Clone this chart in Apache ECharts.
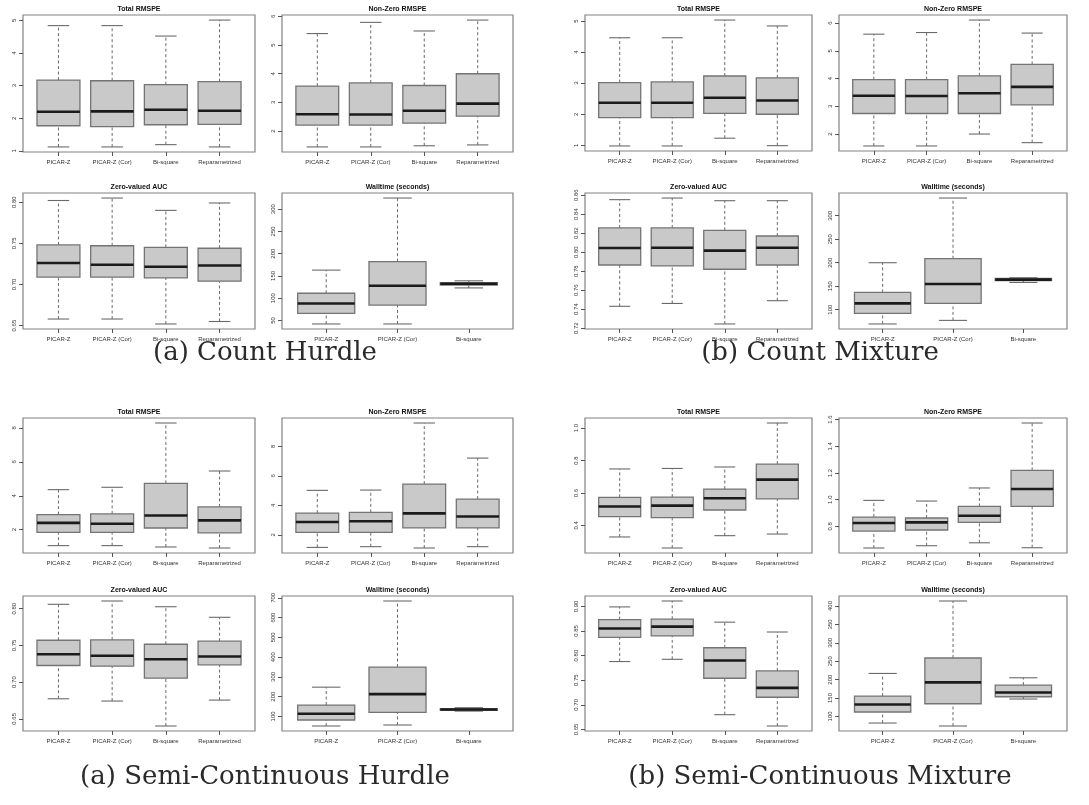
<!DOCTYPE html>
<html>
<head>
<meta charset="utf-8">
<script src="https://cdn.jsdelivr.net/npm/echarts@6/dist/echarts.min.js"></script>
<style>
  html, body { margin: 0; padding: 0; background: #ffffff; }
  #chart { width: 1089px; height: 805px; }
</style>
</head>
<body>
<div id="chart"></div>
<script>
// Methods compared along each x axis
const methods4 = ['PICAR-Z', 'PICAR-Z (Cor)', 'Bi-square', 'Reparametrized'];
const methods3 = ['PICAR-Z', 'PICAR-Z (Cor)', 'Bi-square'];

// Box summaries per method: [lower whisker, Q1, median, Q3, upper whisker]

// (a) Count Hurdle
const chTotalRmspe = [[1.12, 1.77, 2.20, 3.17, 4.84], [1.12, 1.74, 2.21, 3.15, 4.84], [1.19, 1.80, 2.26, 3.03, 4.52], [1.12, 1.81, 2.23, 3.12, 5.01]];
const chTotalRmspeTicks = ['1', '2', '3', '4', '5'];
const chNonZeroRmspe = [[1.45, 2.21, 2.59, 3.57, 5.40], [1.45, 2.21, 2.58, 3.68, 5.79], [1.49, 2.28, 2.71, 3.59, 5.49], [1.52, 2.52, 2.96, 4.00, 5.87]];
const chNonZeroRmspeTicks = ['2', '3', '4', '5', '6'];
const chZeroAuc = [[0.658, 0.709, 0.726, 0.748, 0.802], [0.658, 0.709, 0.724, 0.747, 0.805], [0.652, 0.708, 0.7215, 0.745, 0.790], [0.655, 0.704, 0.723, 0.744, 0.799]];
const chZeroAucTicks = ['0.65', '0.70', '0.75', '0.80'];
const chWalltime = [[42, 66, 88, 111, 163], [42, 84.5, 128, 182, 325], [123, 129.5, 132.5, 135, 139]];
const chWalltimeTicks = ['50', '100', '150', '200', '250', '300'];

// (b) Count Mixture
const cmTotalRmspe = [[0.98, 1.89, 2.37, 3.02, 4.46], [0.98, 1.89, 2.37, 3.04, 4.46], [1.23, 2.03, 2.53, 3.23, 5.03], [0.99, 2.00, 2.44, 3.17, 4.84]];
const cmTotalRmspeTicks = ['1', '2', '3', '4', '5'];
const cmNonZeroRmspe = [[1.57, 2.74, 3.38, 3.96, 5.60], [1.57, 2.74, 3.37, 3.96, 5.66], [2.00, 2.74, 3.47, 4.10, 6.11], [1.69, 3.05, 3.70, 4.51, 5.64]];
const cmNonZeroRmspeTicks = ['2', '3', '4', '5', '6'];
const cmZeroAuc = [[0.743, 0.7865, 0.8044, 0.8255, 0.8553], [0.746, 0.7855, 0.8047, 0.8255, 0.857], [0.7244, 0.782, 0.8016, 0.823, 0.8542], [0.7489, 0.7865, 0.8047, 0.817, 0.8542]];
const cmZeroAucTicks = ['0.72', '0.74', '0.76', '0.78', '0.80', '0.82', '0.84', '0.86'];
const cmWalltime = [[69.6, 92.1, 113.4, 136.8, 200], [77.2, 113.4, 154.7, 208.5, 337.7], [158, 162, 164, 166.5, 168]];
const cmWalltimeTicks = ['100', '150', '200', '250', '300'];

// (a) Semi-Continuous Hurdle
const schTotalRmspe = [[1.06, 1.84, 2.40, 2.89, 4.36], [1.06, 1.84, 2.35, 2.93, 4.50], [0.98, 2.10, 2.84, 4.73, 8.29], [0.92, 1.81, 2.55, 3.34, 5.46]];
const schTotalRmspeTicks = ['2', '4', '6', '8'];
const schNonZeroRmspe = [[1.15, 2.17, 2.87, 3.48, 5.02], [1.20, 2.17, 2.92, 3.53, 5.04], [1.11, 2.47, 3.46, 5.45, 9.59], [1.20, 2.47, 3.25, 4.43, 7.21]];
const schNonZeroRmspeTicks = ['2', '4', '6', '8'];
const schZeroAuc = [[0.6773, 0.7226, 0.738, 0.757, 0.806], [0.6742, 0.7217, 0.736, 0.7575, 0.8105], [0.6402, 0.7054, 0.7312, 0.7516, 0.8027], [0.6755, 0.7235, 0.7348, 0.7557, 0.7883]];
const schZeroAucTicks = ['0.65', '0.70', '0.75', '0.80'];
const schWalltime = [[51.5, 81.8, 113.6, 157.6, 248], [56.6, 120, 213, 349.5, 684], [127, 131, 135, 139, 144]];
const schWalltimeTicks = ['100', '200', '300', '400', '500', '600', '700'];

// (b) Semi-Continuous Mixture
const scmTotalRmspe = [[0.329, 0.454, 0.517, 0.573, 0.748], [0.261, 0.448, 0.522, 0.575, 0.751], [0.337, 0.495, 0.567, 0.624, 0.760], [0.347, 0.563, 0.682, 0.778, 1.031]];
const scmTotalRmspeTicks = ['0.4', '0.6', '0.8', '1.0'];
const scmNonZeroRmspe = [[0.638, 0.765, 0.825, 0.870, 0.995], [0.655, 0.773, 0.830, 0.863, 0.990], [0.677, 0.830, 0.880, 0.950, 1.088], [0.640, 0.950, 1.080, 1.220, 1.575]];
const scmNonZeroRmspeTicks = ['0.8', '1.0', '1.2', '1.4', '1.6'];
const scmZeroAuc = [[0.788, 0.837, 0.855, 0.873, 0.899], [0.7925, 0.840, 0.859, 0.874, 0.911], [0.680, 0.754, 0.790, 0.816, 0.868], [0.657, 0.7154, 0.7345, 0.769, 0.848]];
const scmZeroAucTicks = ['0.65', '0.70', '0.75', '0.80', '0.85', '0.90'];
const scmWalltime = [[82, 112, 132.6, 155.4, 216.8], [74, 134.5, 192.4, 258.7, 413.6], [147.3, 153.5, 165.2, 185.3, 205]];
const scmWalltimeTicks = ['100', '150', '200', '250', '300', '350', '400'];

// Sub-figure captions and panel headings
const captions = ['(a) Count Hurdle', '(b) Count Mixture', '(a) Semi-Continuous Hurdle', '(b) Semi-Continuous Mixture'];
const panelTitles = ['Total RMSPE', 'Non-Zero RMSPE', 'Zero-valued AUC', 'Walltime (seconds)'];

// Plot regions [left, top, width, height] for each of the 16 panels
const panels = [
  { t: 0, data: chTotalRmspe,  ticks: chTotalRmspeTicks,  m: methods4, rect: [23, 15, 232, 137] },
  { t: 1, data: chNonZeroRmspe, ticks: chNonZeroRmspeTicks, m: methods4, rect: [282, 15, 231, 137] },
  { t: 2, data: chZeroAuc,     ticks: chZeroAucTicks,     m: methods4, rect: [23, 193, 232, 136] },
  { t: 3, data: chWalltime,    ticks: chWalltimeTicks,    m: methods3, rect: [282, 193, 231, 136] },

  { t: 0, data: cmTotalRmspe,  ticks: cmTotalRmspeTicks,  m: methods4, rect: [585, 15, 227, 136] },
  { t: 1, data: cmNonZeroRmspe, ticks: cmNonZeroRmspeTicks, m: methods4, rect: [839, 15, 228, 136] },
  { t: 2, data: cmZeroAuc,     ticks: cmZeroAucTicks,     m: methods4, rect: [585, 193, 227, 136] },
  { t: 3, data: cmWalltime,    ticks: cmWalltimeTicks,    m: methods3, rect: [839, 193, 228, 136] },

  { t: 0, data: schTotalRmspe,  ticks: schTotalRmspeTicks,  m: methods4, rect: [23, 418, 232, 135] },
  { t: 1, data: schNonZeroRmspe, ticks: schNonZeroRmspeTicks, m: methods4, rect: [282, 418, 231, 135] },
  { t: 2, data: schZeroAuc,     ticks: schZeroAucTicks,     m: methods4, rect: [23, 596, 232, 135] },
  { t: 3, data: schWalltime,    ticks: schWalltimeTicks,    m: methods3, rect: [282, 596, 231, 135] },

  { t: 0, data: scmTotalRmspe,  ticks: scmTotalRmspeTicks,  m: methods4, rect: [585, 418, 227, 135] },
  { t: 1, data: scmNonZeroRmspe, ticks: scmNonZeroRmspeTicks, m: methods4, rect: [839, 418, 228, 135] },
  { t: 2, data: scmZeroAuc,     ticks: scmZeroAucTicks,     m: methods4, rect: [585, 596, 227, 135] },
  { t: 3, data: scmWalltime,    ticks: scmWalltimeTicks,    m: methods3, rect: [839, 596, 228, 135] }
];

const captionPos = [[265, 353], [820, 353], [265, 777], [820, 777]];

const SANS = '"Liberation Sans", Arial, Helvetica, sans-serif';
const SERIF = '"DejaVu Serif", serif';

const grids = [], xAxes = [], yAxes = [], series = [], graphics = [];

// Draws one box: dashed whiskers, end caps, filled box and a heavy median bar
function renderBox(params, api) {
  const x = api.value(0);
  const lo = api.coord([x, api.value(1)]);
  const q1 = api.coord([x, api.value(2)]);
  const md = api.coord([x, api.value(3)]);
  const q3 = api.coord([x, api.value(4)]);
  const hi = api.coord([x, api.value(5)]);
  const unit = api.size([1, 0])[0];
  const bw = unit * 0.8;
  const cw = bw * 0.5;
  const cx = lo[0];
  const whisker = { stroke: '#6a6a6a', lineWidth: 1, lineDash: [3, 2.5] };
  const cap = { stroke: '#6a6a6a', lineWidth: 1.1 };
  return {
    type: 'group',
    children: [
      { type: 'line', shape: { x1: cx, y1: lo[1], x2: cx, y2: q1[1] }, style: whisker },
      { type: 'line', shape: { x1: cx, y1: q3[1], x2: cx, y2: hi[1] }, style: whisker },
      { type: 'line', shape: { x1: cx - cw / 2, y1: lo[1], x2: cx + cw / 2, y2: lo[1] }, style: cap },
      { type: 'line', shape: { x1: cx - cw / 2, y1: hi[1], x2: cx + cw / 2, y2: hi[1] }, style: cap },
      { type: 'rect', shape: { x: cx - bw / 2, y: q3[1], width: bw, height: q1[1] - q3[1] },
        style: { fill: '#c9c9c9', stroke: '#747474', lineWidth: 1.3 } },
      { type: 'line', shape: { x1: cx - bw / 2, y1: md[1], x2: cx + bw / 2, y2: md[1] },
        style: { stroke: '#1b1b1b', lineWidth: 2.6 } }
    ]
  };
}

panels.forEach((p, i) => {
  const [left, top, width, height] = p.rect;
  const n = p.m.length;
  // Axis limits follow the data range with a 4% margin on each side
  let lo = Infinity, hi = -Infinity;
  p.data.forEach(b => { lo = Math.min(lo, b[0]); hi = Math.max(hi, b[4]); });
  const pad = (hi - lo) * 0.04;
  const tickVals = p.ticks.map(Number);
  const xTicks = p.m.map((_, k) => k + 1);

  grids.push({ left, top, width, height, show: true, borderColor: '#828282', borderWidth: 1.2, backgroundColor: 'transparent' });

  xAxes.push({
    gridIndex: i, type: 'value', min: 0.5 - 0.04 * n, max: n + 0.5 + 0.04 * n,
    splitLine: { show: false }, axisLine: { show: false },
    axisTick: { show: true, length: 4, customValues: xTicks, lineStyle: { color: '#555', width: 1 } },
    axisLabel: { show: true, customValues: xTicks, margin: 7, fontFamily: SANS, fontSize: 6, color: '#333',
      formatter: v => p.m[Math.round(v) - 1] || '' }
  });

  yAxes.push({
    gridIndex: i, type: 'value', min: lo - pad, max: hi + pad,
    splitLine: { show: false }, axisLine: { show: false },
    axisTick: { show: true, length: 4, customValues: tickVals, lineStyle: { color: '#555', width: 1 } },
    axisLabel: { show: true, customValues: tickVals, rotate: 90, margin: 6, fontFamily: SANS, fontSize: 6, color: '#333',
      formatter: v => { const k = tickVals.indexOf(v); return k >= 0 ? p.ticks[k] : ''; } }
  });

  series.push({
    type: 'custom', xAxisIndex: i, yAxisIndex: i, silent: true,
    renderItem: renderBox,
    encode: { x: 0, y: [1, 2, 3, 4, 5] },
    data: p.data.map((b, k) => [k + 1].concat(b))
  });

  graphics.push({
    type: 'text', x: left + width / 2, y: top - 6,
    style: { text: panelTitles[p.t], fontFamily: SANS, fontWeight: 'bold', fontSize: 7, fill: '#111',
      textAlign: 'center', textVerticalAlign: 'middle' }
  });
});

captions.forEach((c, i) => {
  graphics.push({
    type: 'text', x: captionPos[i][0], y: captionPos[i][1],
    style: { text: c, fontFamily: SERIF, fontSize: 26, fill: '#2a2a2a',
      textAlign: 'center', textVerticalAlign: 'middle' }
  });
});

const chart = echarts.init(document.getElementById('chart'), null, { renderer: 'canvas' });
chart.setOption({
  animation: false,
  backgroundColor: '#ffffff',
  grid: grids,
  xAxis: xAxes,
  yAxis: yAxes,
  series: series,
  graphic: { elements: graphics }
});
</script>
</body>
</html>
